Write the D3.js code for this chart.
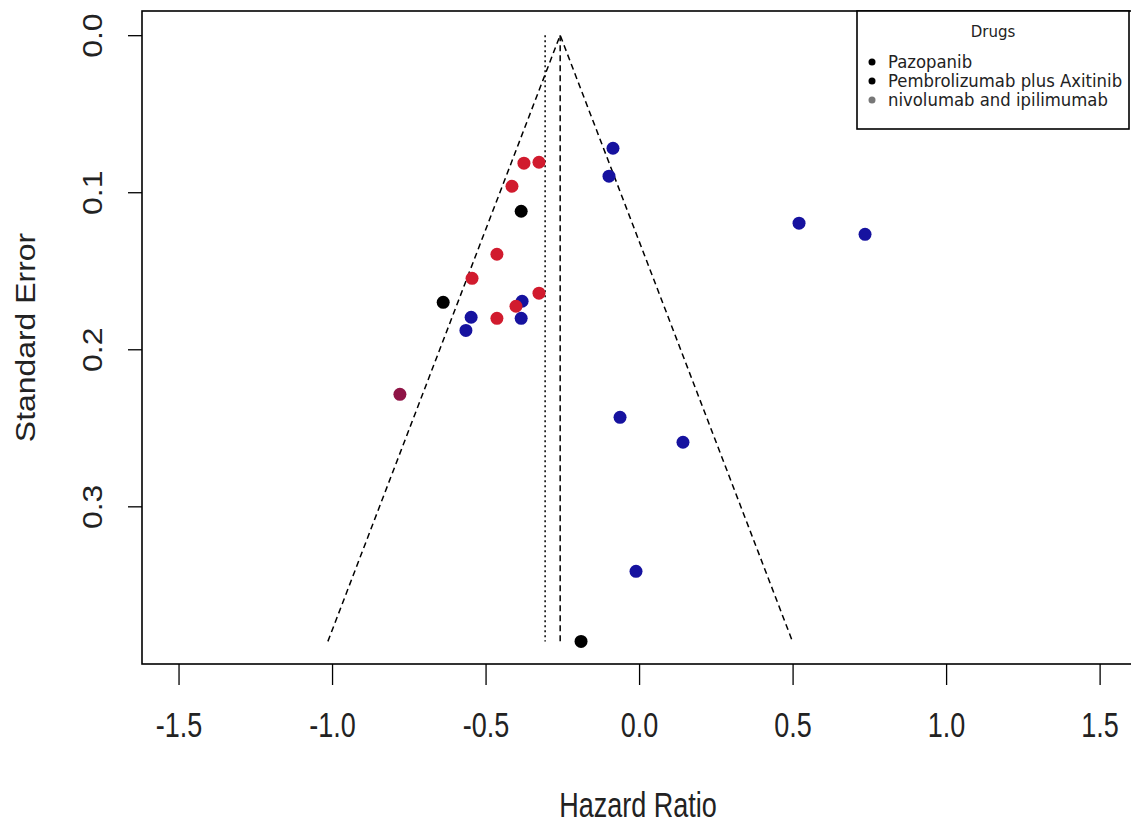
<!DOCTYPE html>
<html>
<head>
<meta charset="utf-8">
<script src="https://cdn.jsdelivr.net/npm/d3@7"></script>
<style>
    body { margin: 0; background: #fff; }
    svg { display: block; }
    .tick line { stroke: #000; stroke-width: 1.3; }
</style>
</head>
<body>
<div id="wrapper"></div>
<script>
// values
const redHR = [-0.375, -0.326, -0.414, -0.463, -0.544, -0.326, -0.401, -0.463];
const redSE = [0.0815, 0.0809, 0.0962, 0.1395, 0.1548, 0.1643, 0.1726, 0.1803];

const blueHR = [-0.085, -0.098, 0.521, 0.736, -0.381, -0.547, -0.384, -0.564, -0.062, 0.143, -0.010];
const blueSE = [0.0720, 0.0898, 0.1197, 0.1268, 0.1694, 0.1796, 0.1803, 0.1880, 0.2433, 0.2592, 0.3414];

const blackHR = [-0.384, -0.638, -0.189];
const blackSE = [0.1121, 0.1701, 0.386];

// the one dark purple-red point
const mixedHR = [-0.779];
const mixedSE = [0.2287];

const pooledFixed = -0.257;   // dashed line / funnel apex
const pooledRandom = -0.306;  // dotted line
const maxSE = 0.386;

const xTicks = [-1.5, -1.0, -0.5, 0.0, 0.5, 1.0, 1.5];
const yTicks = [0.0, 0.1, 0.2, 0.3];

const legendTitle = "Drugs";
const legendItems = ["Pazopanib", "Pembrolizumab plus Axitinib", "nivolumab and ipilimumab"];
const legendColors = ["#000", "#000", "#777"];

const width = 1131;
const height = 824;
// right edge of the box falls just outside the picture
const box = { left: 142, right: 1134, top: 11, bottom: 664 };

const svg = d3.select("#wrapper")
    .append("svg")
    .attr("width", width)
    .attr("height", height)

const xScale = d3.scaleLinear()
    .domain([-1.619, 1.612])
    .range([box.left, box.right])

const yScale = d3.scaleLinear()
    .domain([-0.0154, 0.4004])
    .range([box.top, box.bottom])

// funnel
const z = 1.96
const funnel = [
    [pooledFixed - z * maxSE, maxSE],
    [pooledFixed, 0],
    [pooledFixed + z * maxSE, maxSE]
]
svg.append("path")
    .attr("d", d3.line().x(d => xScale(d[0])).y(d => yScale(d[1]))(funnel))
    .attr("fill", "none")
    .attr("stroke", "#000")
    .attr("stroke-width", 1.5)
    .attr("stroke-dasharray", "6,4")

svg.append("line")
    .attr("x1", xScale(pooledFixed)).attr("x2", xScale(pooledFixed))
    .attr("y1", yScale(0)).attr("y2", yScale(maxSE))
    .attr("stroke", "#000")
    .attr("stroke-width", 1.5)
    .attr("stroke-dasharray", "6,4")

svg.append("line")
    .attr("x1", xScale(pooledRandom)).attr("x2", xScale(pooledRandom))
    .attr("y1", yScale(0)).attr("y2", yScale(maxSE))
    .attr("stroke", "#000")
    .attr("stroke-width", 1.5)
    .attr("stroke-dasharray", "2,3")

// points
function drawPoints(hr, se, color) {
    svg.append("g")
        .selectAll("circle")
        .data(hr.map((d, i) => ({ hr: d, se: se[i] })))
        .join("circle")
        .attr("cx", d => xScale(d.hr))
        .attr("cy", d => yScale(d.se))
        .attr("r", 6.5)
        .attr("fill", color)
}
drawPoints(blueHR, blueSE, "#16129f")
drawPoints(redHR, redSE, "#d11b2e")
drawPoints(blackHR, blackSE, "#000")
drawPoints(mixedHR, mixedSE, "#8f1446")

// axes
const xAxis = svg.append("g")
    .attr("transform", `translate(0, ${box.bottom})`)
    .call(d3.axisBottom(xScale)
        .tickValues(xTicks)
        .tickSize(21)
        .tickFormat(d3.format(".1f")))
xAxis.select(".domain").remove()
xAxis.selectAll("text")
    .attr("y", null)
    .attr("dy", null)
    .attr("text-anchor", "middle")
    .attr("transform", "translate(0, 73) scale(0.9, 1.17)")
    .style("font-family", "'Liberation Sans', Arial, sans-serif")
    .style("font-size", "30px")
    .attr("fill", "#222")
    .text(d => d3.format(".1f")(d).replace("−", "-"))

const yAxis = svg.append("g")
    .attr("transform", `translate(${box.left}, 0)`)
    .call(d3.axisLeft(yScale)
        .tickValues(yTicks)
        .tickSize(14)
        .tickFormat(d3.format(".1f")))
yAxis.select(".domain").remove()
yAxis.selectAll("text")
    .attr("x", null)
    .attr("dy", null)
    .attr("text-anchor", "middle")
    .attr("transform", "translate(-40, 0) scale(1, 1.14) rotate(-90)")
    .style("font-family", "'Liberation Sans', Arial, sans-serif")
    .style("font-size", "28px")
    .attr("fill", "#222")

// box
svg.append("rect")
    .attr("x", box.left)
    .attr("y", box.top)
    .attr("width", box.right - box.left)
    .attr("height", box.bottom - box.top)
    .attr("fill", "none")
    .attr("stroke", "#000")
    .attr("stroke-width", 1.6)

// axis titles
svg.append("text")
    .attr("transform", `translate(638, 817) scale(0.9, 1.17)`)
    .attr("text-anchor", "middle")
    .style("font-family", "'Liberation Sans', Arial, sans-serif")
    .style("font-size", "30px")
    .attr("fill", "#222")
    .text("Hazard Ratio")

svg.append("text")
    .attr("transform", `translate(35, ${(box.top + box.bottom) / 2}) scale(1, 1.14) rotate(-90)`)
    .attr("text-anchor", "middle")
    .style("font-family", "'Liberation Sans', Arial, sans-serif")
    .style("font-size", "28px")
    .attr("fill", "#222")
    .text("Standard Error")

// legend
const legend = svg.append("g")
legend.append("rect")
    .attr("x", 857)
    .attr("y", box.top)
    .attr("width", 1129 - 857)
    .attr("height", 129 - box.top)
    .attr("fill", "#fff")
    .attr("stroke", "#000")
    .attr("stroke-width", 1.6)

legend.append("text")
    .attr("x", 993)
    .attr("y", 37)
    .attr("text-anchor", "middle")
    .style("font-family", "'DejaVu Sans', sans-serif")
    .style("font-size", "15px")
    .attr("fill", "#222")
    .text(legendTitle)

const rows = legend.selectAll(".row")
    .data(legendItems)
    .join("g")
    .attr("class", "row")
    .attr("transform", (d, i) => `translate(0, ${62 + i * 19})`)
rows.append("circle")
    .attr("cx", 872)
    .attr("cy", 0)
    .attr("r", 3.5)
    .attr("fill", (d, i) => legendColors[i])
rows.append("text")
    .attr("transform", "translate(888, 6) scale(1, 1.1)")
    .style("font-family", "'DejaVu Sans', sans-serif")
    .style("font-size", "16.5px")
    .attr("fill", "#222")
    .text(d => d)
</script>
</body>
</html>
